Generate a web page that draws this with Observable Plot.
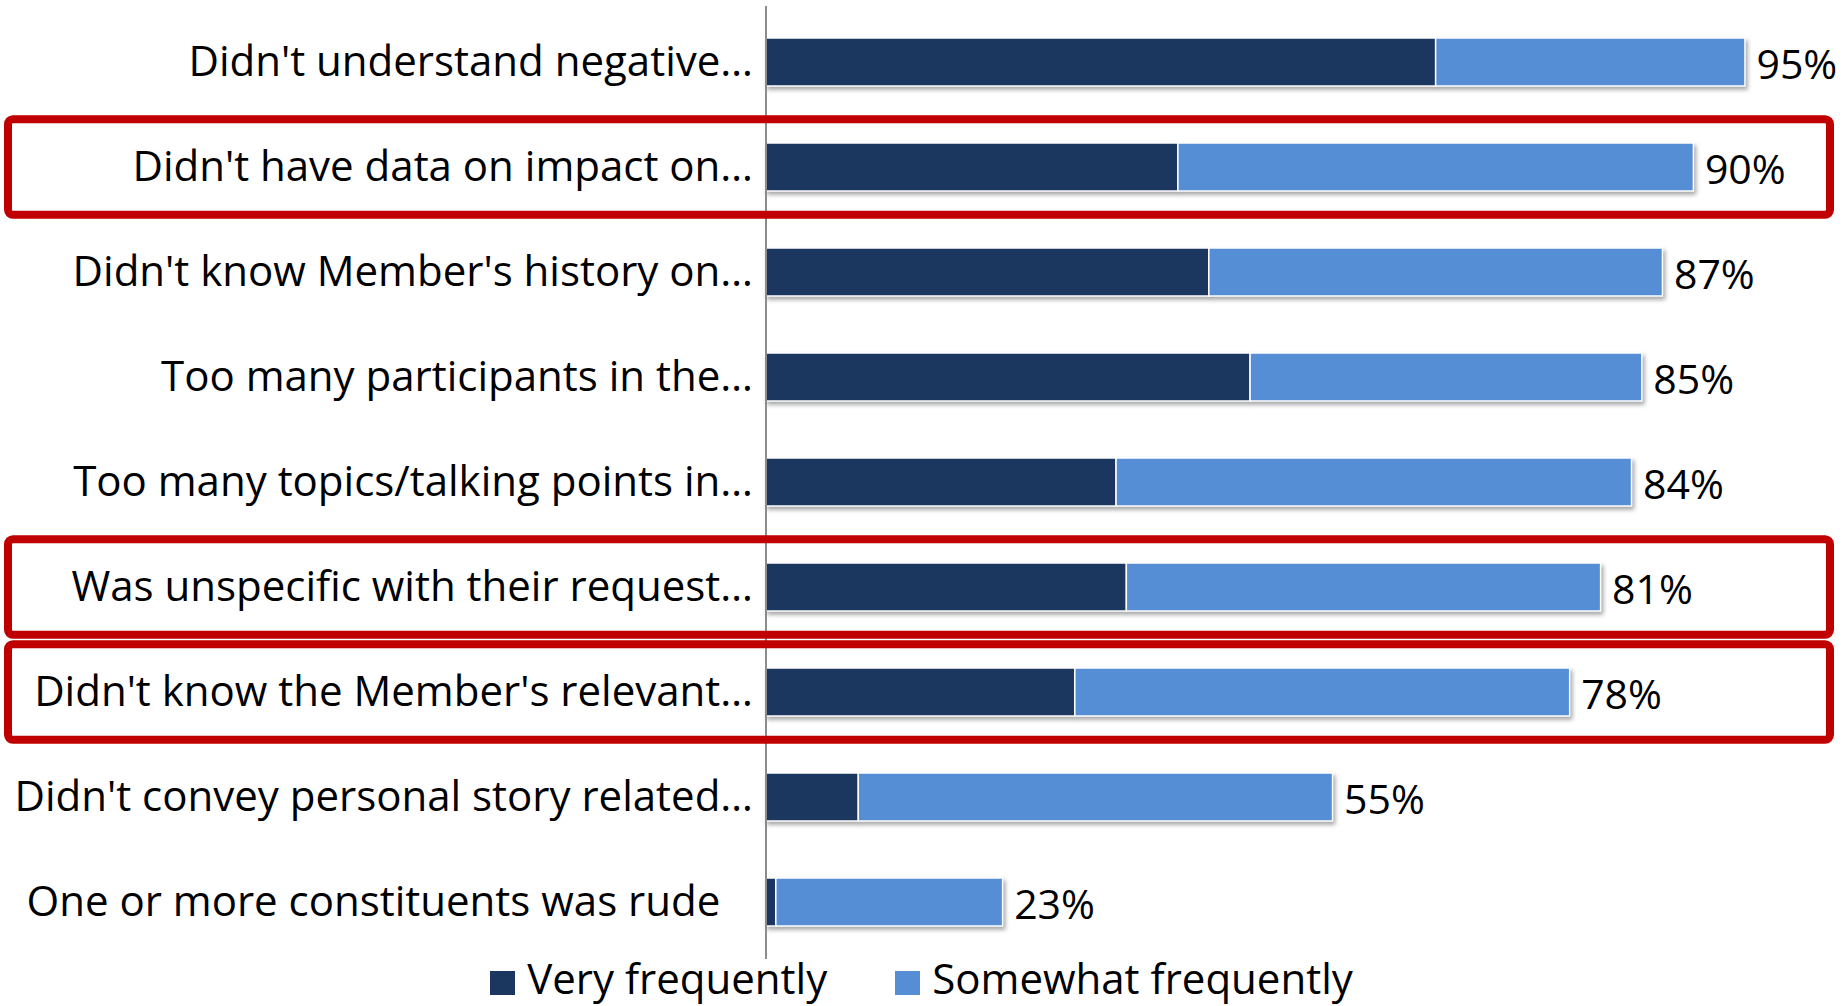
<!DOCTYPE html>
<html>
<head>
<meta charset="utf-8">
<script src="https://cdn.jsdelivr.net/npm/d3@7"></script>
<script src="https://cdn.jsdelivr.net/npm/@observablehq/plot@0.6"></script>
<style>
  html, body { margin: 0; padding: 0; background: #fff; overflow: hidden; }
  #legend { display: flex; justify-content: center; align-items: flex-start; height: 46px;
            margin-top: -4.5px; line-height: 40px;
            font-family: "Open Sans", sans-serif; font-size: 42px; color: #000; }
  #legend .sw { display: inline-block; width: 25px; height: 24px; margin-right: 12px; margin-top: 13.5px; }
  #legend .item { display: flex; align-items: flex-start; }
  #legend .item + .item { margin-left: 68px; }
</style>
</head>
<body>
<div id="chart"></div>
<div id="legend"></div>
<script>
// ---- data ----
const categories = [
  "Didn't understand negative…",
  "Didn't have data on impact on…",
  "Didn't know Member's history on…",
  "Too many participants in the…",
  "Too many topics/talking points in…",
  "Was unspecific with their request…",
  "Didn't know the Member's relevant…",
  "Didn't convey personal story related…",
  "One or more constituents was rude\u00a0\u00a0\u00a0"
];
const veryFrequently     = [65, 40, 43, 47, 34, 35, 30, 9, 1];
const somewhatFrequently = [30, 50, 44, 38, 50, 46, 48, 46, 22];
const seriesNames = ["Very frequently", "Somewhat frequently"];
const seriesColors = ["#1b375f", "#558ed5"];
const highlightedCategories = [categories[1], categories[5], categories[6]];

// ---- tables built from arrays ----
const rows = categories.flatMap((c, i) => [
  {category: c, series: seriesNames[0], value: veryFrequently[i]},
  {category: c, series: seriesNames[1], value: somewhatFrequently[i]}
]);
const totals = categories.map((c, i) => ({category: c, total: veryFrequently[i] + somewhatFrequently[i]}));

const plot = Plot.plot({
  width: 1843,
  height: 962,
  marginLeft: 765.5,
  marginRight: 46.5,
  marginTop: 6,
  marginBottom: 3,
  style: {fontFamily: "'Open Sans', sans-serif", fontSize: "42px", color: "#000", background: "#fff", overflow: "visible"},
  x: {domain: [0, 100], axis: null},
  y: {domain: categories, paddingInner: 0.54, paddingOuter: 0.27, label: null, tickSize: 0, tickPadding: 13},
  color: {domain: seriesNames, range: seriesColors},
  marks: [
    Plot.barX(rows, Plot.stackX({y: "category", x: "value", fill: "series", stroke: "#ffffff", strokeWidth: 1.5})),
    Plot.ruleX([0], {stroke: "#8c8c8c", strokeWidth: 2}),
    Plot.text(totals, {y: "category", x: "total", text: d => d.total + "%", textAnchor: "start", dx: 11, dy: 3, fontSize: 41, fill: "#000"})
  ]
});

document.getElementById("chart").appendChild(plot);

// shadow on bars
d3.select(plot).selectAll('g[aria-label="bar"]').style("filter", "drop-shadow(2px 3px 2px rgba(0,0,0,0.35))");

// highlight boxes anchored to the y scale
const yS = plot.scale("y");
const gBox = d3.select(plot).append("g").attr("aria-label", "highlight boxes");
for (const c of highlightedCategories) {
  const center = yS.apply(c) + yS.bandwidth / 2;
  const half = yS.step * 0.455;
  gBox.append("rect")
    .attr("x", 8).attr("y", center - half)
    .attr("width", 1822).attr("height", 2 * half)
    .attr("rx", 5).attr("ry", 5)
    .attr("fill", "none").attr("stroke", "#c00000").attr("stroke-width", 8);
}

// legend
const legend = d3.select("#legend");
seriesNames.forEach((name, i) => {
  const item = legend.append("div").attr("class", "item");
  item.append("span").attr("class", "sw").style("background", seriesColors[i]);
  item.append("span").text(name);
});
</script>
</body>
</html>
